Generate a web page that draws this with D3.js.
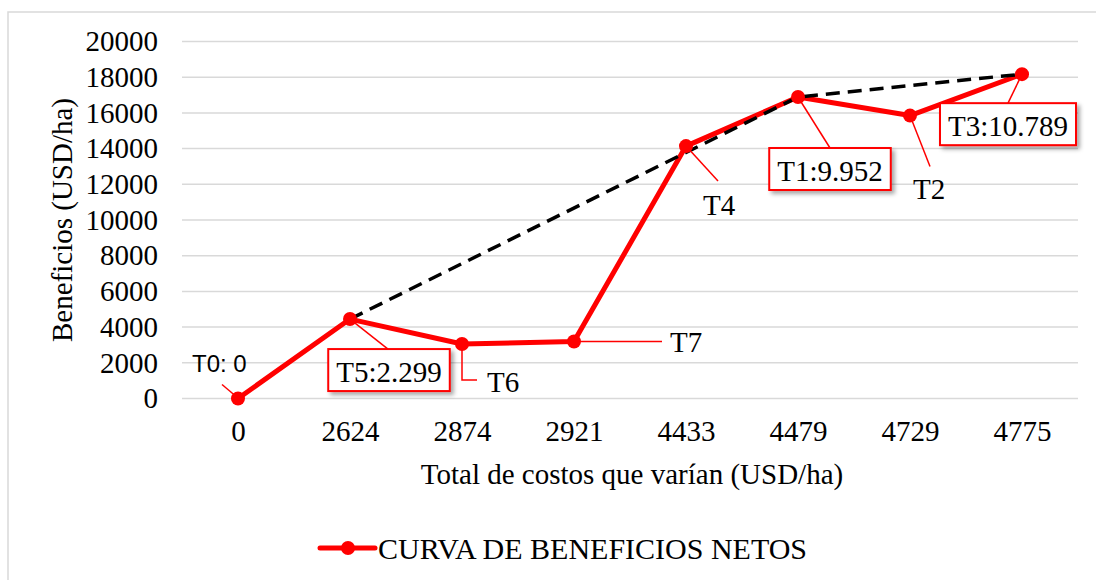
<!DOCTYPE html>
<meta charset="utf-8">
<style>
body { margin: 0; background: #fff; }
svg { display: block; font-family: "Liberation Serif", "Times New Roman", serif; }
.grid line { stroke: #d9d9d9; stroke-width: 1.5px; }
</style>
<body>
<svg width="1096" height="580"></svg>
<script src="https://d3js.org/d3.v7.min.js"></script>
<script>
// costs (x categories) and net benefits
var costs = ["0", "2624", "2874", "2921", "4433", "4479", "4729", "4775"];
var benefits = [0, 4450, 3050, 3190, 14140, 16890, 15850, 18170];
var treat = ["T0", "T5", "T6", "T7", "T4", "T1", "T2", "T3"];
var labelText = ["T0: 0", "T5:2.299", "T6", "T7", "T4", "T1:9.952", "T2", "T3:10.789"];
// non dominated points (dashed frontier)
var frontier = ["2624", "4479", "4775"];
var yTicks = [0, 2000, 4000, 6000, 8000, 10000, 12000, 14000, 16000, 18000, 20000];

var serif = "'Liberation Serif', 'Times New Roman', serif";
var svg = d3.select("svg");

var defs = svg.append("defs");
var f = defs.append("filter").attr("id", "shadow").attr("x", "-20%").attr("y", "-20%").attr("width", "150%").attr("height", "160%");
f.append("feDropShadow").attr("dx", 3).attr("dy", 3).attr("stdDeviation", 2).attr("flood-color", "#000").attr("flood-opacity", 0.35);

// outer chart border
svg.append("rect").attr("x", 8).attr("y", 12).attr("width", 1100).attr("height", 600)
  .attr("fill", "none").attr("stroke", "#d9d9d9").attr("stroke-width", 1.5);

var x = d3.scalePoint().domain(costs).range([182, 1078]).padding(0.5);
var y = d3.scaleLinear().domain([0, 20000]).range([398.5, 41.5]);

// gridlines
svg.append("g").attr("class", "grid")
  .selectAll("line").data(yTicks).enter().append("line")
  .attr("x1", 182).attr("x2", 1078)
  .attr("y1", function(d) { return y(d); }).attr("y2", function(d) { return y(d); });

// y axis labels
var yAxis = svg.append("g").attr("transform", "translate(182,0)")
  .call(d3.axisLeft(y).tickValues(yTicks).tickSize(0).tickPadding(24).tickFormat(d3.format("d")));
yAxis.select(".domain").remove();

// x axis labels
var xAxis = svg.append("g").attr("transform", "translate(0,398.5)")
  .call(d3.axisBottom(x).tickSize(0).tickPadding(22));
xAxis.select(".domain").remove();

[yAxis, xAxis].forEach(function(a) {
  a.attr("font-family", serif).attr("font-size", 29);
  a.selectAll("text").style("font-family", serif).style("font-size", "29px").attr("fill", "#000");
});

// titles
svg.append("text").attr("x", 632).attr("y", 484).attr("text-anchor", "middle")
  .style("font-size", "29px").text("Total de costos que varían (USD/ha)");
svg.append("text").attr("transform", "translate(72,220) rotate(-90)").attr("text-anchor", "middle")
  .style("font-size", "29px").text("Beneficios (USD/ha)");

var pts = costs.map(function(c, i) { return { c: c, v: benefits[i], t: treat[i], lab: labelText[i] }; });

var line = d3.line().x(function(d) { return x(d.c); }).y(function(d) { return y(d.v); });

svg.append("path").datum(pts).attr("d", line)
  .attr("fill", "none").attr("stroke", "#ff0000").attr("stroke-width", 5).attr("stroke-linejoin", "round");

svg.append("path").datum(pts.filter(function(d) { return frontier.indexOf(d.c) >= 0; })).attr("d", line)
  .attr("fill", "none").attr("stroke", "#000").attr("stroke-width", 3.5).attr("stroke-dasharray", "14,8");

svg.selectAll(".dot").data(pts).enter().append("circle")
  .attr("class", "dot")
  .attr("cx", function(d) { return x(d.c); }).attr("cy", function(d) { return y(d.v); })
  .attr("r", 7).attr("fill", "#ff0000");

// data labels: leader path (relative to point), text position, box or not
var layout = {
  T0: { leader: [[-16, -14], [-3, -3]], tx: -46, ty: -35, box: false, sans: true },
  T5: { leader: [[0, 0], [38, 30]], tx: 39, ty: 51, box: true },
  T6: { leader: [[0, 0], [0, 36], [15, 36]], tx: 25, ty: 38, box: false },
  T7: { leader: [[0, 0], [88, 0]], tx: 96, ty: 0, box: false },
  T4: { leader: [[0, 0], [32, 35]], tx: 17, ty: 59, box: false },
  T1: { leader: [[0, 0], [32, 51]], tx: 32, ty: 72, box: true },
  T2: { leader: [[0, 0], [20, 51]], tx: 3, ty: 73, box: false },
  T3: { leader: [[0, 0], [-14, 29]], tx: -14, ty: 50, box: true }
};

var lab = svg.selectAll(".lab").data(pts).enter().append("g").attr("class", "lab")
  .attr("transform", function(d) { return "translate(" + x(d.c) + "," + y(d.v) + ")"; });

lab.append("path")
  .attr("d", function(d) { return d3.line()(layout[d.t].leader); })
  .attr("fill", "none").attr("stroke", "#ff0000").attr("stroke-width", 1.5);

lab.each(function(d) {
  var g = d3.select(this), L = layout[d.t];
  var t = g.append("text").text(d.lab)
    .attr("dominant-baseline", "central")
    .attr("text-anchor", L.box ? "middle" : "start")
    .attr("x", L.tx).attr("y", L.box ? L.ty + 2 : L.ty)
    .style("font-size", L.sans ? "24px" : "29px")
    .style("font-family", L.sans ? "'Liberation Sans', Arial, sans-serif" : null);
  if (L.box) {
    var bb = t.node().getBBox();
    g.insert("rect", "text")
      .attr("x", L.tx - bb.width / 2 - 8).attr("y", L.ty - 21)
      .attr("width", bb.width + 16).attr("height", 42)
      .attr("fill", "#fff").attr("stroke", "#ff0000").attr("stroke-width", 2)
      .attr("filter", "url(#shadow)");
  }
});

// legend
var leg = svg.append("g").attr("transform", "translate(320,548)");
leg.append("line").attr("x1", 0).attr("x2", 55).attr("stroke", "#ff0000").attr("stroke-width", 5).attr("stroke-linecap", "round");
leg.append("circle").attr("cx", 28).attr("r", 7).attr("fill", "#ff0000");
leg.append("text").attr("x", 58).attr("dominant-baseline", "central").style("font-size", "30px").text("CURVA DE BENEFICIOS NETOS");
</script>
</body>
